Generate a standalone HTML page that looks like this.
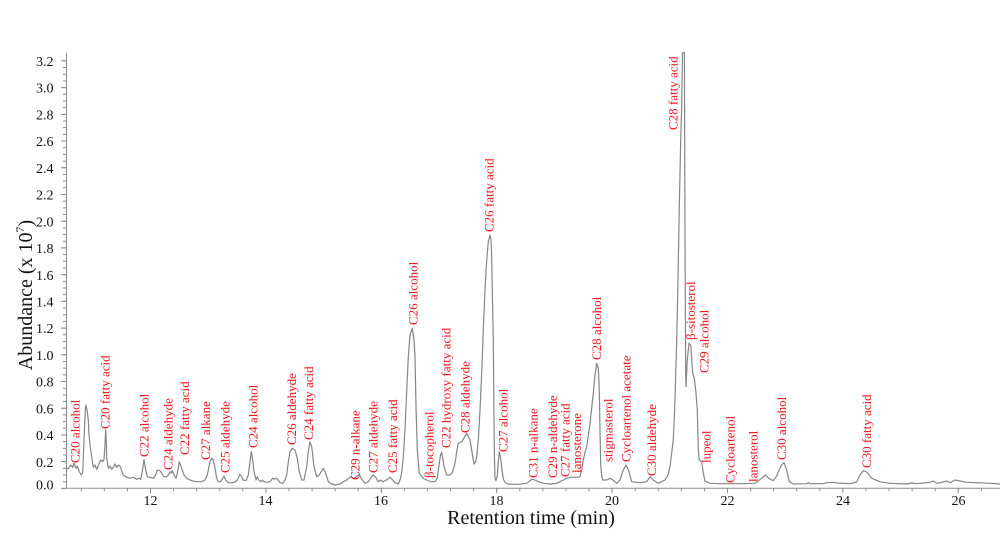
<!DOCTYPE html>
<html>
<head>
<meta charset="utf-8">
<style>
html,body{margin:0;padding:0;background:#fff;}
svg{display:block;}
.lbl{font-family:"Liberation Serif","DejaVu Serif",serif;font-size:13px;fill:#f2161f;}
.tk{font-family:"Liberation Serif","DejaVu Serif",serif;font-size:14px;fill:#111;}
.ttl{font-family:"Liberation Serif","DejaVu Serif",serif;font-size:20px;fill:#111;}
</style>
</head>
<body>
<svg width="1000" height="542" viewBox="0 0 1000 542" xmlns="http://www.w3.org/2000/svg">
<rect width="1000" height="542" fill="#fff"/>

<!-- axes -->
<line x1="66.5" y1="53" x2="66.5" y2="488.8" stroke="#8c8c8c" stroke-width="1"/>
<line x1="66" y1="488.3" x2="1000" y2="488.3" stroke="#8c8c8c" stroke-width="1"/>
<!-- y minor ticks -->
<line x1="64.5" y1="488.9" x2="64.5" y2="58" stroke="#8c8c8c" stroke-width="3" stroke-dasharray="1 5.68"/>
<!-- y major ticks -->
<line x1="63.5" y1="488.9" x2="63.5" y2="58" stroke="#8c8c8c" stroke-width="5" stroke-dasharray="1 25.72"/>
<!-- x minor ticks -->
<line x1="80.76" y1="489.8" x2="1000" y2="489.8" stroke="#8c8c8c" stroke-width="3" stroke-dasharray="1 22.08"/>
<!-- x major ticks -->
<line x1="150" y1="490.8" x2="1000" y2="490.8" stroke="#8c8c8c" stroke-width="5" stroke-dasharray="1 114.4"/>

<!-- y tick labels -->
<g class="tk" text-anchor="end">
<text x="53.5" y="66">3.2</text>
<text x="53.5" y="92.7">3.0</text>
<text x="53.5" y="119.4">2.8</text>
<text x="53.5" y="146.2">2.6</text>
<text x="53.5" y="172.9">2.4</text>
<text x="53.5" y="199.6">2.2</text>
<text x="53.5" y="226.3">2.0</text>
<text x="53.5" y="253">1.8</text>
<text x="53.5" y="279.8">1.6</text>
<text x="53.5" y="306.5">1.4</text>
<text x="53.5" y="333.2">1.2</text>
<text x="53.5" y="359.9">1.0</text>
<text x="53.5" y="386.6">0.8</text>
<text x="53.5" y="413.4">0.6</text>
<text x="53.5" y="440.1">0.4</text>
<text x="53.5" y="466.8">0.2</text>
<text x="53.5" y="489.3">0.0</text>
</g>
<!-- x tick labels -->
<g class="tk" text-anchor="middle">
<text x="150.5" y="505">12</text>
<text x="265.5" y="505">14</text>
<text x="381" y="505">16</text>
<text x="496.5" y="505">18</text>
<text x="612" y="505">20</text>
<text x="727.5" y="505">22</text>
<text x="843" y="505">24</text>
<text x="958.5" y="505">26</text>
</g>

<!-- axis titles -->
<text class="ttl" text-anchor="middle" transform="translate(32,295) rotate(-90)">Abundance (x 10<tspan font-size="12" dy="-8">7</tspan><tspan dy="8">)</tspan></text>
<text class="ttl" x="531" y="524" text-anchor="middle">Retention time (min)</text>

<!-- chromatogram trace -->
<polyline fill="none" stroke="#858585" stroke-width="1.2" stroke-linejoin="round" points="
66,469.3 68.3,468.3 70.7,465 72.7,467.5 74,463.3 76,468.3 77.3,466 79.3,471.7 81.3,475 82.7,472.7 84,440 85.3,410 86,405 87,410 88.3,420 89,435 90,445 91.7,456.7 93.3,467.3 95,465 96.7,469.3 99.3,463.3 100.7,460 102.7,461.7 104,459.3 105,445 105.7,430 106.3,440 106.7,458.3 108.3,468.3 110,466 111.7,469.3 113.3,467.3 115,464 116.7,467.3 118.3,465 120,466 121.7,470.7 123.3,475 126.7,477.3 130,478.3 133.3,477.3 136.7,479.3 139,478.3 140.7,479.3 142.7,469.3 144,459.3 145.7,470 147.3,476.7 150,477.3 153.3,478.3 155.7,475 157.3,470 160,470.7 161.7,473.3 164,476.7 166.7,476.7 168.3,475 170,471.7 171,473.3 172.3,470.7 174,475 176,478.3 177.3,473.3 179.3,461.7 181.7,468.3 184,475 186.7,478.3 191.7,480.7 196.7,481.7 201.7,481.7 205,480 207.3,475 210,461.7 211.7,458.3 213.3,460 215,468.3 216.7,478.3 218.3,481.7 220.7,481.7 222.3,479 224,476 225.7,480 228.3,482.7 231.7,482.7 235,482 237.3,480 240,474.3 241.7,476.7 243.3,480 246,480.7 248.3,475 250,461.7 251.3,451.7 252.7,460 254,471.7 256,480 257.3,476.7 258.7,480 261,481.7 262.3,480 264,481.7 266.7,482.3 270,481.7 272.7,478.3 275,479 276.7,478.3 278.3,480 280,482.7 282.7,483.3 285,480 286.7,475 288.3,461.7 290,451.7 292.3,448.3 295,450 297.3,458.3 299.3,471.7 301.7,480 304,480 306.7,466.7 308.3,451.7 310,441.7 311.7,446.7 314,466.7 316.7,476.7 319.3,475 321.7,470.7 323.3,468.3 325.7,473.3 328.3,481.7 331.7,484 335,485 340,484
343.3,481.7 346.7,480 350.7,476.7 353.3,478.3 356,477.3 359.3,474.3 361.7,479.3 365,483.3 368.3,481.7 370.7,478.3 373.3,475 375.7,477.3 378.3,481.7 380.7,480 382.7,481.7 385,480.7 387.3,479.3 390,477.3 392.7,480 395,482.7 398.3,484 400.7,478 402,470 403.3,456.7 405,430 406,406.7 408.3,356.7 410,335 412.3,328.3 414,340 415,356.7 416,406.7 417.3,450 419.3,473.3 423.3,478.5 426.7,480 430,481.5 435,481.7 437.3,478 439,465 440.5,455 441.7,452.3 443,460 444,466.7 446.7,475 450,475 452.5,472 455,463.3 457,450 458.3,443.3 461.7,441.7 464,438 466.7,433.3 468,436 470,440 472,452 474,464 475.5,462 476.7,456.7 478.3,440 480,410 481.7,373 483.3,330 485,290 486.7,260 488.3,242 490,235 491,240 491.7,256.7 492.5,300 493.3,340 494,420 494.5,460 495,478 496,480.5 497.3,476 498.3,462 499.3,451.7 500.7,458 502,470 503.3,479 505,482.5 508,484 513.3,484.3 520,484.3 526.7,483.3 531.7,479.3 535,480 538.3,481.7 543.3,483.3 550,484 556.7,483.3 560,481.7 563.3,480 566.7,478.3 570,477.3 576.7,477.3 580,476.7 581.7,470 583.3,460 585,452 586.7,446.7 588.3,436 590,423.3 591.7,408 593.3,393.3 595,375 596.7,363.3 598.3,368 599.3,390 600,430 600.7,465 601.7,476 602.7,480 606.7,480 610,478.3 613,480 616.7,483.3 620,480 623.3,470 626,465 628.5,470 631.7,481.7 640,482.7 646.7,481.7 650,476.7 653.3,480 658.3,483.3 665,480 668,475 670,466.7 673.3,440 675,400 676.7,340 678,280 679.3,206.7 680.7,140 681.7,106.7 682.5,53 682.7,52.5 684.3,52.5 684.4,53 685,240 685.7,373.3 686,386.7 687.3,360 689,343.3 690.7,345 692.7,373.3 694.3,378.3 695.7,390 697.3,410 698.3,450 699.3,460 701.7,461.7 703.3,473.3 705,481 710,483.3 720,483.7 740,483.7 755,483.3 761.7,478.3 765.5,475 769,478.5 773.3,480.7 776.7,476 779,470 781.7,465 784,462.7 786.7,470 789.3,481.7 793.3,484 806.7,483.7 808.3,482.7 810,483.7 823.3,483.7 826.7,482.7 833.3,482.3 836.7,483 850,483.7 856.7,482 860,475 863.3,470.7 866.7,472 871.7,478.3 880,481.7 890,483.3 906.7,484 912,483 916.7,483.7 923.3,483 930,482.3 933.3,481 936.7,483.3 943.3,482 946.7,481 950,482.7 955,480 960,481 966.7,482.3 976.7,482.7 990,483.3 1000,484"/>

<!-- peak labels -->
<g class="lbl">
<text transform="translate(79.3,463) rotate(-90)">C20 alcohol</text>
<text transform="translate(109.3,429) rotate(-90)">C20 fatty acid</text>
<text transform="translate(148.3,457) rotate(-90)">C22 alcohol</text>
<text transform="translate(172.3,470) rotate(-90)">C24 aldehyde</text>
<text transform="translate(189,455) rotate(-90)">C22 fatty acid</text>
<text transform="translate(210,460) rotate(-90)">C27 alkane</text>
<text transform="translate(229.3,473) rotate(-90)">C25 aldehyde</text>
<text transform="translate(257.5,448) rotate(-90)">C24 alcohol</text>
<text transform="translate(296.2,445) rotate(-90)">C26 aldehyde</text>
<text transform="translate(313,440) rotate(-90)">C24 fatty acid</text>
<text transform="translate(359.3,480) rotate(-90)">C29 n-alkane</text>
<text transform="translate(377.6,473) rotate(-90)">C27 aldehyde</text>
<text transform="translate(397,473) rotate(-90)">C25 fatty acid</text>
<text transform="translate(417.6,325) rotate(-90)">C26 alcohol</text>
<text transform="translate(433.3,478) rotate(-90)">β-tocopherol</text>
<text transform="translate(450.3,448) rotate(-90)">C22 hydroxy fatty acid</text>
<text transform="translate(469.3,433) rotate(-90)">C28 aldehyde</text>
<text transform="translate(493.6,232) rotate(-90)">C26 fatty acid</text>
<text transform="translate(507.6,452) rotate(-90)">C27 alcohol</text>
<text transform="translate(537.6,478) rotate(-90)">C31 n-alkane</text>
<text transform="translate(557,478) rotate(-90)">C29 n-aldehyde</text>
<text transform="translate(569.3,477) rotate(-90)">C27 fatty acid</text>
<text transform="translate(581,473) rotate(-90)">lanosterone</text>
<text transform="translate(601,360) rotate(-90)">C28 alcohol</text>
<text transform="translate(612.6,462) rotate(-90)">stigmasterol</text>
<text transform="translate(630.3,462) rotate(-90)">Cycloartenol acetate</text>
<text transform="translate(656,476) rotate(-90)">C30 aldehyde</text>
<text transform="translate(677.3,130) rotate(-90)">C28 fatty acid</text>
<text transform="translate(695,340) rotate(-90)">β-sitosterol</text>
<text transform="translate(708.3,373) rotate(-90)">C29 alcohol</text>
<text transform="translate(710.3,463) rotate(-90)">lupeol</text>
<text transform="translate(734.3,483) rotate(-90)">Cycloartenol</text>
<text transform="translate(757.3,482) rotate(-90)">lanosterol</text>
<text transform="translate(786,460) rotate(-90)">C30 alcohol</text>
<text transform="translate(871,468) rotate(-90)">C30 fatty acid</text>
</g>
</svg>
</body>
</html>
